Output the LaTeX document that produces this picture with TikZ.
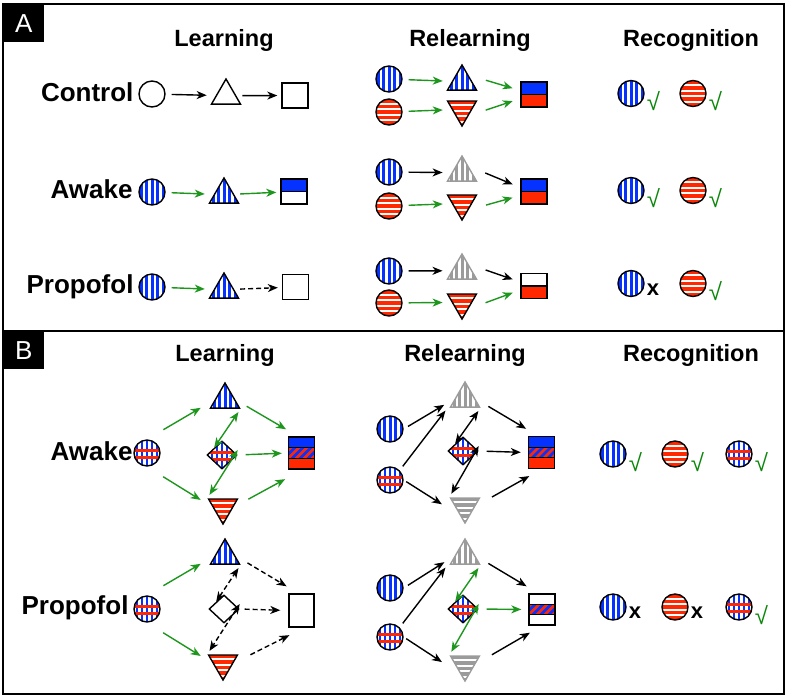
\documentclass[tikz,border=0pt]{standalone}
\usepackage{fontspec}
\setmainfont{Liberation Sans}
\usetikzlibrary{shapes.geometric, arrows.meta, positioning}
\definecolor{sblue}{RGB}{5,50,255}
\definecolor{sred}{RGB}{255,40,0}
\definecolor{sgreen}{RGB}{30,150,30}
\definecolor{sgray}{RGB}{155,155,155}
\definecolor{kgreen}{RGB}{10,135,10}

\tikzset{
  shp/.style={draw=black, line width=1.4pt, fill=white, inner sep=0pt},
  circ/.style={shp, circle, minimum size=26pt},
  tri/.style={shp, regular polygon, regular polygon sides=3, minimum size=33.4pt},
  itri/.style={tri, shape border rotate=180},
  dia/.style={shp, diamond, minimum width=30pt, minimum height=28pt},
  box/.style={shp, rectangle, minimum width=26pt, minimum height=25pt},
  tbox/.style={shp, rectangle, minimum width=26pt, minimum height=32pt},
  vs/.style={path picture={\foreach \i in {-11,-5.5,0,5.5,11}
    \draw[#1, line width=3pt] ([xshift=\i pt]path picture bounding box.north) -- ([xshift=\i pt]path picture bounding box.south);}},
  hs/.style={path picture={\fill[#1] (path picture bounding box.south west) rectangle (path picture bounding box.north east);
    \foreach \i in {-8.25,-2.75,2.75,8.25}
    \draw[white, line width=2.2pt] ([yshift=\i pt]path picture bounding box.west) -- ([yshift=\i pt]path picture bounding box.east);}},
  grid/.style={path picture={\foreach \i in {-10,-5,0,5,10}
    \draw[sblue, line width=2pt] ([xshift=\i pt]path picture bounding box.north) -- ([xshift=\i pt]path picture bounding box.south);
    \foreach \i in {-4.5,2.5}
    \draw[sred, line width=2.4pt] ([yshift=\i pt]path picture bounding box.west) -- ([yshift=\i pt]path picture bounding box.east);}},
  hlf/.style 2 args={path picture={
    \fill[#1] (path picture bounding box.north west) rectangle (path picture bounding box.east);
    \fill[#2] (path picture bounding box.west) rectangle (path picture bounding box.south east);
    \draw[line width=1.2pt] (path picture bounding box.west) -- (path picture bounding box.east);}},
  bnd/.style 2 args={path picture={
    \fill[#1] (path picture bounding box.north west) rectangle ([yshift=5.3pt]path picture bounding box.east);
    \fill[#2] (path picture bounding box.south west) rectangle ([yshift=-5.3pt]path picture bounding box.east);
    \fill[sblue] ([yshift=5.3pt]path picture bounding box.west) rectangle ([yshift=-5.3pt]path picture bounding box.east);
    \begin{scope}
    \clip ([yshift=5.3pt]path picture bounding box.west) rectangle ([yshift=-5.3pt]path picture bounding box.east);
    \foreach \i in {-24,-16,...,24}
    \draw[sred, line width=2.8pt] ([xshift=\i pt]path picture bounding box.center) ++(-8pt,-8pt) -- ++(16pt,16pt);
    \end{scope}
    \draw[line width=1.2pt] ([yshift=5.3pt]path picture bounding box.west) -- ([yshift=5.3pt]path picture bounding box.east);
    \draw[line width=1.2pt] ([yshift=-5.3pt]path picture bounding box.west) -- ([yshift=-5.3pt]path picture bounding box.east);}},
  bc/.style={circ, vs=sblue},
  rc/.style={circ, hs=sred},
  gc/.style={circ, grid},
  bt/.style={tri, vs=sblue},
  rt/.style={itri, hs=sred},
  gt/.style={tri, draw=sgray, vs=sgray},
  gi/.style={itri, draw=sgray, hs=sgray},
  gd/.style={dia, grid},
  arr/.style={->, line width=1.4pt, shorten <=6pt, shorten >=9pt},
  garr/.style={arr, sgreen},
  darr/.style={arr, dash pattern=on 5pt off 3pt},
  dbl/.style={arr, <->, shorten <=0pt, shorten >=4pt},
  gdbl/.style={dbl, sgreen},
  ddbl/.style={dbl, dash pattern=on 5pt off 3pt},
  ttl/.style={font=\fontsize{23.5}{26}\selectfont\bfseries},
  lbl/.style={font=\fontsize{26}{28}\selectfont\bfseries, anchor=east},
  pnl/.style={fill=black, text=white, font=\fontsize{26}{28}\selectfont, minimum width=41pt, minimum height=38pt, anchor=north west, inner sep=0pt},
  ok/.style={text=kgreen, font=\fontsize{24}{26}\selectfont, inner sep=0pt},
  no/.style={font=\fontsize{22}{24}\selectfont\bfseries, inner sep=0pt}
}

\begin{document}
\begin{tikzpicture}[x=1pt, y=-1pt, >={Stealth[length=10pt,width=8pt,inset=3pt]}]
\useasboundingbox (0,0) rectangle (787,697);
\draw[line width=1.2pt] (3,4) rectangle (784,331);
\draw[line width=1.2pt] (3,331) rectangle (784,694);
\node[pnl] (pa) at (3,4) {A};
\node[pnl] (pb) at (3,331) {B};

\node[ttl] (tl1) at (224,40) {Learning};
\node[ttl] (tr1) at (470,40) {Relearning};
\node[ttl] (tk1) at (691,40) {Recognition};
\node[ttl] (tl2) at (225,355) {Learning};
\node[ttl] (tr2) at (465,355) {Relearning};
\node[ttl] (tk2) at (691,355) {Recognition};
\node[lbl] (ctl) at (137,92) {Control};
\node[lbl] (aw1) at (136,189) {Awake};
\node[lbl] (pr1) at (137,287) {Propofol};
\node[lbl] (aw2) at (136,451) {Awake};
\node[lbl] (pr2) at (132,608) {Propofol};

\node[circ] (c1) at (152,94) {};
\node[tri] (t1) at (226,95.7) {};
\node[box] (s1) at (295,95.5) {};
\draw[arr] (c1) -- (t1);
\draw[arr, shorten >=4pt] (t1) -- (s1);

\node[bc] (c2) at (152,192) {};
\node[bt] (t2) at (224,194.7) {};
\node[box, hlf={sblue}{white}] (s2) at (294,191.5) {};
\draw[garr] (c2) -- (t2);
\draw[garr, shorten >=4pt] (t2) -- (s2);

\node[bc] (c3) at (152,287) {};
\node[bt] (t3) at (224,289.7) {};
\node[box] (s3) at (295.5,287) {};
\draw[garr] (c3) -- (t3);
\draw[darr, shorten >=4pt] (t3) -- (s3);

\node[bc] (rb1) at (389,79) {};
\node[rc] (rr1) at (389,112) {};
\node[bt] (rt1) at (462,81.7) {};
\node[rt] (rd1) at (462,109.3) {};
\node[box, hlf={sblue}{sred}] (rs1) at (534,94.5) {};
\draw[garr] (rb1) -- (rt1);
\draw[garr] (rr1) -- (rd1);
\draw[garr, shorten <=18pt, shorten >=8pt] (rt1.north east) -- ([yshift=4pt]rs1.west);
\draw[garr, shorten <=18pt, shorten >=8pt] (rd1.south east) -- ([yshift=-4pt]rs1.west);

\node[bc] (rb2) at (389,172) {};
\node[rc] (rr2) at (389,206) {};
\node[gt] (rt2) at (462,172.7) {};
\node[rt] (rd2) at (462,203.3) {};
\node[box, hlf={sblue}{sred}] (rs2) at (534,191.5) {};
\draw[arr] (rb2) -- (rt2);
\draw[garr] (rr2) -- (rd2);
\draw[arr, shorten <=18pt, shorten >=8pt] (rt2.north east) -- ([yshift=4pt]rs2.west);
\draw[garr, shorten <=18pt, shorten >=8pt] (rd2.south east) -- ([yshift=-4pt]rs2.west);

\node[bc] (rb3) at (389,271) {};
\node[rc] (rr3) at (389,303) {};
\node[gt] (rt3) at (462,270.7) {};
\node[rt] (rd3) at (462,302.3) {};
\node[box, hlf={white}{sred}] (rs3) at (534,286) {};
\draw[arr] (rb3) -- (rt3);
\draw[garr] (rr3) -- (rd3);
\draw[arr, shorten <=18pt, shorten >=8pt] (rt3.north east) -- ([yshift=4pt]rs3.west);
\draw[garr, shorten <=18pt, shorten >=8pt] (rd3.south east) -- ([yshift=-4pt]rs3.west);

\node[bc] (kb1) at (631,93.5) {};
\node[rc] (kr1) at (693,93.5) {};
\node[ok, right=2pt of kb1, yshift=-8pt] (v1) {√};
\node[ok, right=2pt of kr1, yshift=-8pt] (v2) {√};
\node[bc] (kb2) at (631,190.5) {};
\node[rc] (kr2) at (693,190.5) {};
\node[ok, right=2pt of kb2, yshift=-8pt] (v3) {√};
\node[ok, right=2pt of kr2, yshift=-8pt] (v4) {√};
\node[bc] (kb3) at (631,283.5) {};
\node[rc] (kr3) at (693,283.5) {};
\node[no, right=2pt of kb3, yshift=-6pt] (x1) {x};
\node[ok, right=2pt of kr3, yshift=-8pt] (v5) {√};

\node[gc] (gc1) at (147,453) {};
\node[bt] (bt1) at (225,399.7) {};
\node[gd] (gd1) at (222,455) {};
\node[rt] (bd1) at (223,507.3) {};
\node[tbox, bnd={sblue}{sred}] (bs1) at (301.5,453) {};
\draw[garr, shorten <=19pt, shorten >=16pt] (gc1.north) -- (bt1.west);
\draw[garr, shorten <=19pt, shorten >=14pt] (gc1.south) -- (bd1.west);
\draw[garr, shorten <=13pt, shorten >=2pt] (bt1.east) -- ([yshift=6pt]bs1.north west);
\draw[garr, shorten <=8pt, shorten >=6pt] (gd1.east) -- (bs1.west);
\draw[garr, shorten <=17pt, shorten >=3pt] (bd1.east) -- ([yshift=-8pt]bs1.south west);
\draw[gdbl] (gd1.north west) -- (bt1.corner 3);
\draw[gdbl] ([yshift=5pt]gd1.east) -- (bd1.corner 3);

\node[bc] (rb4) at (390,429) {};
\node[gc] (rg4) at (390,480) {};
\node[gt] (gt4) at (465,398.7) {};
\node[gd] (rd4) at (463,451) {};
\node[gi] (gi4) at (465,506.3) {};
\node[tbox, bnd={sblue}{sred}] (rs4) at (541.5,452.5) {};
\draw[arr, shorten <=5pt, shorten >=12pt] (rb4.east) -- (gt4.west);
\draw[arr, shorten <=5pt, shorten >=15pt] (rg4.north east) -- (gt4.west);
\draw[arr, shorten <=3pt, shorten >=15pt] (rg4.east) -- ([yshift=-6pt]gi4.west);
\draw[arr, shorten <=15pt, shorten >=2pt] (gt4.east) -- ([yshift=6pt]rs4.north west);
\draw[arr, shorten <=8pt, shorten >=7pt] (rd4.east) -- (rs4.west);
\draw[arr, shorten <=19pt, shorten >=14pt] (gi4.east) -- (rs4.south);
\draw[dbl] (rd4.north west) -- (gt4.corner 3);
\draw[dbl] ([yshift=5pt]rd4.east) -- (gi4.corner 3);

\node[bc] (kb4) at (613,454) {};
\node[rc] (kr4) at (675,454) {};
\node[gc] (kg4) at (739,454) {};
\node[ok, right=2pt of kb4, yshift=-8pt] (v6) {√};
\node[ok, right=2pt of kr4, yshift=-8pt] (v7) {√};
\node[ok, right=2pt of kg4, yshift=-8pt] (v8) {√};

\node[gc] (gc5) at (147,609) {};
\node[bt] (bt5) at (225,555.7) {};
\node[dia] (wd5) at (224,609) {};
\node[rt] (bd5) at (223,663.3) {};
\node[shp, rectangle, minimum width=25pt, minimum height=33pt] (ws5) at (301.5,610.5) {};
\draw[garr, shorten <=19pt, shorten >=16pt] (gc5.north) -- (bt5.west);
\draw[garr, shorten <=19pt, shorten >=14pt] (gc5.south) -- (bd5.west);
\draw[darr, shorten <=14pt, shorten >=2pt] (bt5.east) -- ([yshift=6pt]ws5.north west);
\draw[darr, shorten <=5pt, shorten >=8pt] (wd5.east) -- (ws5.west);
\draw[darr, shorten <=19pt, shorten >=1pt] (bd5.east) -- ([shift={(2pt,-7pt)}]ws5.south west);
\draw[ddbl] (wd5.north west) -- (bt5.corner 3);
\draw[ddbl] ([yshift=5pt]wd5.east) -- (bd5.corner 3);

\node[bc] (rb6) at (390,588) {};
\node[gc] (rg6) at (390,637) {};
\node[gt] (gt6) at (465,555.7) {};
\node[gd] (rd6) at (463,609) {};
\node[gi] (gi6) at (465,664.3) {};
\node[tbox, minimum height=31pt, bnd={white}{white}] (rs6) at (542,609.5) {};
\draw[arr, shorten <=5pt, shorten >=12pt] (rb6.east) -- (gt6.west);
\draw[arr, shorten <=5pt, shorten >=15pt] (rg6.north east) -- (gt6.west);
\draw[arr, shorten <=3pt, shorten >=15pt] (rg6.east) -- ([yshift=-6pt]gi6.west);
\draw[arr, shorten <=15pt, shorten >=2pt] (gt6.east) -- ([yshift=6pt]rs6.north west);
\draw[garr, shorten <=8pt, shorten >=7pt] (rd6.east) -- (rs6.west);
\draw[arr, shorten <=19pt, shorten >=14pt] (gi6.east) -- (rs6.south);
\draw[gdbl] (rd6.north west) -- (gt6.corner 3);
\draw[gdbl] ([yshift=5pt]rd6.east) -- (gi6.corner 3);

\node[bc] (kb5) at (613,607) {};
\node[rc] (kr5) at (675,607) {};
\node[gc] (kg5) at (739,607) {};
\node[no, right=2pt of kb5, yshift=-6pt] (x2) {x};
\node[no, right=2pt of kr5, yshift=-6pt] (x3) {x};
\node[ok, right=2pt of kg5, yshift=-8pt] (v9) {√};
\end{tikzpicture}
\end{document}
